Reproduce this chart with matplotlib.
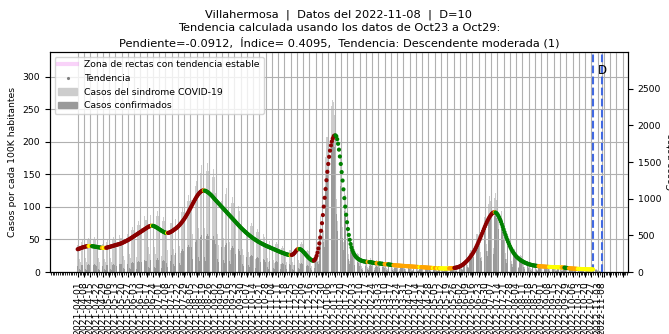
import numpy as np
import pandas as pd
import matplotlib
matplotlib.use('Agg')
import matplotlib.pyplot as plt
import matplotlib.dates as mdates
from matplotlib.lines import Line2D
from matplotlib.patches import Patch

inicio = '2021-04-01'
fecha_tendencia = '2022-10-29'
fecha_datos = '2022-11-08'

# tendencia diaria (casos por cada 100K habitantes), desde 2021-04-01
tendencia = [
    35.0, 35.5, 36.0, 36.6, 37.1, 37.6, 38.0,
    38.4, 38.8, 39.2, 39.5, 39.7, 39.9, 40.0,
    40.0, 39.9, 39.7, 39.5, 39.3, 39.0, 38.8,
    38.5, 38.3, 38.0, 37.8, 37.6, 37.4, 37.2,
    37.1, 37.0, 37.0, 37.1, 37.3, 37.6, 38.0,
    38.4, 38.8, 39.2, 39.6, 40.0, 40.4, 40.8,
    41.2, 41.6, 42.0, 42.4, 42.8, 43.2, 43.7,
    44.3, 44.9, 45.5, 46.2, 46.9, 47.6, 48.3,
    49.0, 49.8, 50.6, 51.5, 52.4, 53.3, 54.2,
    55.1, 56.0, 56.9, 57.8, 58.7, 59.6, 60.5,
    61.4, 62.3, 63.2, 64.1, 65.0, 65.9, 66.8,
    67.7, 68.6, 69.4, 70.1, 70.6, 71.0, 71.1,
    71.0, 70.6, 70.0, 69.3, 68.5, 67.7, 66.8,
    65.9, 65.0, 64.1, 63.2, 62.4, 61.6, 60.9,
    60.4, 60.1, 60.0, 60.1, 60.4, 60.9, 61.6,
    62.4, 63.3, 64.3, 65.3, 66.3, 67.3, 68.4,
    69.6, 71.0, 72.5, 74.1, 75.8, 77.6, 79.5,
    81.5, 83.6, 85.8, 88.1, 90.5, 93.0, 95.6,
    98.2, 100.8, 103.4, 106.0, 108.6, 111.1, 113.5,
    115.8, 117.9, 119.8, 121.5, 122.9, 124.0, 124.8,
    125.2, 125.3, 125.0, 124.5, 123.8, 122.9, 121.9,
    120.8, 119.6, 118.3, 116.9, 115.4, 113.8, 112.1,
    110.6, 109.1, 107.6, 106.1, 104.6, 103.1, 101.6,
    100.1, 98.6, 97.1, 95.6, 94.1, 92.6, 91.1,
    89.6, 88.1, 86.6, 85.1, 83.6, 82.1, 80.6,
    79.1, 77.6, 76.1, 74.6, 73.1, 71.6, 70.1,
    68.7, 67.3, 65.9, 64.6, 63.3, 62.0, 60.8,
    59.6, 58.4, 57.2, 56.1, 55.0, 53.9, 52.9,
    51.9, 50.9, 50.0, 49.1, 48.2, 47.3, 46.5,
    45.7, 44.9, 44.1, 43.4, 42.7, 42.0, 41.3,
    40.6, 40.0, 39.4, 38.8, 38.2, 37.6, 37.0,
    36.4, 35.8, 35.2, 34.6, 34.0, 33.4, 32.8,
    32.2, 31.6, 31.0, 30.4, 29.9, 29.4, 28.9,
    28.4, 27.9, 27.4, 27.0, 26.6, 26.3, 26.1,
    26.0, 26.2, 26.7, 27.6, 28.9, 30.6, 32.4,
    34.0, 35.0, 35.4, 35.3, 34.8, 33.9, 32.7,
    31.3, 29.8, 28.2, 26.6, 25.0, 23.5, 22.1,
    20.8, 19.6, 18.6, 17.8, 17.3, 17.5, 18.8,
    21.2, 24.8, 29.8, 36.2, 44.0, 53.0, 63.3,
    75.0, 87.5, 100.5, 114.0, 127.5, 141.0, 154.0,
    166.0, 177.0, 186.5, 194.5, 200.5, 205.0, 208.0,
    209.6, 210.0, 208.5, 204.0, 197.0, 188.0, 177.5,
    166.0, 153.5, 140.5, 127.0, 113.5, 100.5, 88.0,
    76.5, 66.0, 57.0, 49.5, 43.0, 37.8, 33.5,
    30.0, 27.2, 25.0, 23.2, 21.8, 20.6, 19.6,
    18.8, 18.1, 17.5, 17.0, 16.6, 16.3, 16.0,
    15.8, 15.6, 15.5, 15.4, 15.3, 15.1, 14.9,
    14.6, 14.3, 14.0, 13.8, 13.6, 13.5, 13.4,
    13.3, 13.2, 13.0, 12.8, 12.6, 12.4, 12.2,
    12.1, 12.0, 11.9, 11.8, 11.7, 11.5, 11.3,
    11.1, 10.9, 10.7, 10.5, 10.4, 10.3, 10.2,
    10.1, 10.0, 9.9, 9.8, 9.7, 9.6, 9.5,
    9.4, 9.3, 9.2, 9.1, 9.0, 8.9, 8.8,
    8.7, 8.6, 8.5, 8.4, 8.3, 8.2, 8.1,
    8.0, 7.9, 7.8, 7.7, 7.6, 7.6, 7.5,
    7.4, 7.3, 7.2, 7.1, 7.0, 6.9, 6.8,
    6.7, 6.6, 6.5, 6.4, 6.3, 6.2, 6.2,
    6.1, 6.0, 5.9, 5.8, 5.8, 5.7, 5.6,
    5.6, 5.5, 5.5, 5.4, 5.4, 5.4, 5.4,
    5.5, 5.5, 5.6, 5.7, 5.8, 5.9, 6.0,
    6.1, 6.3, 6.5, 6.8, 7.1, 7.5, 8.0,
    8.6, 9.3, 10.1, 11.0, 12.0, 13.1, 14.3,
    15.6, 17.0, 18.5, 20.1, 21.8, 23.6, 25.5,
    27.6, 29.8, 32.1, 34.6, 37.3, 40.2, 43.2,
    46.3, 49.5, 52.8, 56.1, 59.5, 62.9, 66.3,
    69.6, 72.8, 75.9, 78.8, 81.5, 84.0, 86.2,
    88.1, 89.7, 90.9, 91.6, 91.8, 91.4, 90.4,
    88.8, 86.6, 83.9, 80.8, 77.3, 73.5, 69.5,
    65.4, 61.3, 57.3, 53.4, 49.7, 46.2, 42.9,
    39.8, 36.9, 34.2, 31.8, 29.6, 27.6, 25.8,
    24.2, 22.8, 21.5, 20.3, 19.2, 18.2, 17.3,
    16.5, 15.7, 15.0, 14.3, 13.7, 13.1, 12.6,
    12.1, 11.7, 11.3, 10.9, 10.6, 10.3, 10.0,
    9.8, 9.6, 9.4, 9.2, 9.0, 8.9, 8.8,
    8.7, 8.6, 8.5, 8.4, 8.3, 8.2, 8.1,
    8.0, 7.9, 7.8, 7.8, 7.7, 7.7, 7.6,
    7.6, 7.5, 7.5, 7.4, 7.4, 7.3, 7.3,
    7.2, 7.2, 7.1, 7.0, 6.9, 6.8, 6.6,
    6.4, 6.2, 6.0, 5.8, 5.7, 5.6, 5.5,
    5.4, 5.3, 5.2, 5.1, 5.0, 4.9, 4.8,
    4.8, 4.7, 4.7, 4.6, 4.6, 4.5, 4.5,
    4.4, 4.4, 4.3, 4.3, 4.2, 4.2, 4.1,
    4.1, 4.0, 4.0,
]

# casos netos diarios, desde 2021-04-01
casos_sindrome = [
    375, 340, 180, 130, 405, 440, 405,
    400, 370, 195, 140, 440, 470, 435,
    400, 365, 190, 145, 435, 475, 440,
    385, 350, 185, 135, 420, 450, 420,
    380, 345, 180, 130, 410, 445, 410,
    405, 370, 195, 140, 440, 475, 440,
    430, 395, 205, 150, 470, 510, 470,
    470, 430, 225, 165, 515, 555, 510,
    525, 480, 250, 185, 570, 615, 570,
    590, 540, 280, 205, 640, 695, 640,
    655, 600, 315, 230, 710, 770, 710,
    715, 655, 340, 250, 780, 840, 780,
    705, 645, 340, 245, 770, 830, 770,
    645, 590, 310, 225, 700, 755, 700,
    615, 560, 295, 215, 665, 720, 665,
    665, 610, 320, 230, 725, 780, 725,
    755, 690, 360, 265, 820, 885, 820,
    900, 820, 430, 310, 975, 1055, 975,
    1080, 985, 515, 375, 1175, 1270, 1175,
    1240, 1130, 595, 430, 1350, 1455, 1350,
    1270, 1160, 605, 440, 1380, 1490, 1380,
    1195, 1090, 570, 415, 1295, 1400, 1295,
    1080, 990, 520, 375, 1175, 1270, 1175,
    975, 890, 465, 340, 1060, 1145, 1060,
    870, 795, 415, 300, 945, 1020, 945,
    760, 695, 365, 265, 830, 895, 830,
    660, 600, 315, 230, 715, 775, 715,
    575, 525, 275, 200, 625, 670, 625,
    500, 460, 240, 175, 545, 590, 545,
    445, 405, 210, 155, 480, 520, 480,
    390, 355, 185, 135, 425, 460, 425,
    345, 315, 165, 120, 380, 410, 380,
    305, 280, 145, 105, 330, 360, 330,
    270, 250, 130, 95, 295, 320, 295,
    295, 270, 140, 100, 320, 345, 320,
    355, 325, 170, 125, 385, 415, 385,
    255, 235, 120, 90, 280, 300, 280,
    175, 160, 85, 60, 190, 205, 190,
    255, 280, 175, 155, 590, 760, 830,
    890, 935, 555, 450, 1565, 1845, 1840,
    1805, 1735, 950, 710, 2270, 2350, 2320,
    2140, 1940, 995, 700, 2085, 2125, 1840,
    1565, 1310, 620, 405, 1115, 1055, 850,
    675, 530, 240, 150, 420, 400, 335,
    220, 205, 105, 75, 240, 260, 240,
    170, 155, 80, 60, 185, 200, 185,
    155, 145, 75, 55, 170, 185, 170,
    140, 125, 65, 50, 150, 165, 150,
    130, 120, 60, 45, 140, 150, 140,
    120, 110, 55, 40, 130, 140, 130,
    105, 95, 50, 35, 115, 125, 115,
    100, 90, 45, 35, 110, 115, 110,
    90, 85, 45, 30, 100, 110, 100,
    85, 80, 40, 30, 95, 100, 90,
    75, 70, 35, 25, 85, 90, 85,
    70, 65, 35, 25, 80, 85, 75,
    65, 60, 30, 20, 70, 75, 70,
    60, 55, 30, 20, 65, 70, 65,
    55, 50, 25, 20, 60, 65, 60,
    60, 55, 30, 20, 65, 70, 65,
    70, 65, 35, 25, 80, 85, 80,
    95, 95, 55, 45, 145, 165, 160,
    175, 170, 100, 75, 260, 305, 305,
    305, 300, 170, 130, 445, 515, 515,
    505, 490, 275, 210, 700, 795, 770,
    745, 705, 385, 290, 930, 1030, 975,
    915, 845, 445, 325, 1015, 1080, 985,
    885, 780, 395, 275, 815, 830, 725,
    625, 535, 260, 175, 515, 515, 440,
    375, 320, 155, 105, 305, 310, 270,
    195, 180, 95, 70, 215, 230, 215,
    140, 130, 65, 50, 150, 165, 150,
    110, 100, 50, 40, 115, 125, 115,
    90, 85, 45, 30, 100, 110, 100,
    85, 80, 40, 30, 95, 100, 90,
    80, 70, 35, 25, 85, 90, 85,
    75, 70, 35, 25, 80, 90, 80,
    70, 65, 35, 25, 75, 80, 75,
    60, 55, 30, 20, 65, 70, 65,
    50, 45, 25, 20, 55, 60, 55,
    45, 45, 25, 15, 50, 55, 50,
    45, 40, 20, 15, 45, 50, 45,
    40, 35, 20, 15, 45, 45, 45,
    30, 25, 15, 10, 15, 10,
]

casos_confirmados = [
    85, 75, 40, 30, 90, 95, 90,
    90, 80, 45, 30, 95, 105, 95,
    90, 80, 40, 30, 95, 105, 95,
    85, 75, 40, 30, 90, 100, 90,
    85, 75, 40, 30, 90, 100, 90,
    90, 80, 45, 30, 95, 105, 95,
    95, 85, 45, 35, 105, 110, 105,
    105, 95, 50, 35, 115, 120, 110,
    115, 105, 55, 40, 125, 135, 125,
    130, 120, 60, 45, 140, 155, 140,
    145, 130, 70, 50, 155, 170, 155,
    155, 145, 75, 55, 170, 185, 170,
    155, 140, 75, 55, 170, 185, 170,
    140, 130, 70, 50, 155, 165, 155,
    135, 125, 65, 45, 145, 160, 145,
    235, 215, 110, 80, 255, 275, 255,
    265, 240, 125, 95, 285, 310, 285,
    315, 285, 150, 110, 340, 370, 340,
    380, 345, 180, 130, 410, 445, 410,
    435, 395, 210, 150, 475, 510, 475,
    445, 405, 210, 155, 485, 520, 485,
    420, 380, 200, 145, 455, 490, 455,
    380, 345, 180, 130, 410, 445, 410,
    340, 310, 165, 120, 370, 400, 370,
    305, 280, 145, 105, 330, 355, 330,
    265, 245, 130, 95, 290, 315, 290,
    230, 210, 110, 80, 250, 270, 250,
    200, 185, 95, 70, 220, 235, 220,
    175, 160, 85, 60, 190, 205, 190,
    155, 140, 75, 55, 170, 180, 170,
    135, 125, 65, 45, 150, 160, 150,
    120, 110, 60, 40, 135, 145, 135,
    105, 100, 50, 35, 115, 125, 115,
    95, 90, 45, 35, 105, 110, 105,
    90, 80, 40, 30, 95, 105, 95,
    105, 100, 50, 40, 115, 125, 115,
    75, 70, 35, 25, 85, 90, 85,
    55, 50, 25, 20, 55, 60, 55,
    190, 210, 130, 115, 445, 570, 625,
    670, 700, 415, 340, 1175, 1385, 1380,
    1445, 1390, 760, 570, 1815, 1880, 1855,
    1710, 1550, 795, 560, 1670, 1700, 1470,
    1175, 985, 465, 305, 835, 790, 640,
    505, 400, 180, 115, 315, 300, 250,
    110, 100, 55, 40, 120, 130, 120,
    85, 80, 40, 30, 90, 100, 90,
    80, 70, 40, 30, 85, 90, 85,
    70, 65, 35, 25, 75, 80, 75,
    65, 60, 30, 20, 70, 75, 70,
    60, 55, 30, 20, 65, 70, 65,
    50, 50, 25, 20, 55, 60, 55,
    50, 45, 25, 15, 55, 60, 55,
    45, 40, 20, 15, 50, 55, 50,
    40, 40, 20, 15, 45, 50, 45,
    40, 35, 20, 10, 40, 45, 40,
    35, 35, 15, 10, 40, 40, 40,
    30, 30, 15, 10, 35, 40, 35,
    30, 25, 15, 10, 30, 35, 30,
    25, 25, 15, 10, 30, 30, 30,
    30, 25, 15, 10, 30, 35, 30,
    35, 30, 20, 10, 40, 45, 40,
    65, 65, 40, 30, 100, 115, 110,
    120, 120, 70, 55, 180, 215, 215,
    215, 210, 120, 90, 310, 360, 360,
    355, 345, 195, 145, 490, 555, 540,
    560, 530, 290, 220, 700, 775, 730,
    685, 635, 335, 245, 760, 810, 740,
    665, 585, 295, 205, 610, 625, 545,
    440, 375, 180, 125, 360, 360, 310,
    265, 225, 110, 75, 215, 215, 190,
    135, 125, 65, 50, 150, 160, 150,
    75, 70, 35, 30, 85, 90, 85,
    60, 55, 30, 20, 65, 70, 65,
    50, 45, 25, 15, 55, 60, 55,
    45, 45, 20, 15, 50, 55, 50,
    45, 40, 20, 15, 45, 50, 45,
    40, 40, 20, 15, 45, 50, 45,
    40, 35, 20, 15, 40, 45, 40,
    35, 30, 15, 10, 35, 40, 35,
    30, 25, 15, 10, 30, 35, 30,
    25, 25, 15, 10, 30, 30, 30,
    25, 20, 10, 10, 25, 30, 25,
    20, 20, 10, 10, 25, 25, 25,
    15, 15, 10, 5, 10, 5,
]

fechas_t = pd.date_range(inicio, periods=len(tendencia), freq='D')
fechas_c = pd.date_range(inicio, periods=len(casos_sindrome), freq='D')

# color de cada punto segun la pendiente de la tendencia
pend = np.gradient(np.array(tendencia))
colores = []
for p in pend:
    if p >= 0.15:
        colores.append('darkred')
    elif p <= -0.15:
        colores.append('green')
    elif abs(p) < 0.07:
        colores.append('yellow')
    else:
        colores.append('orange')

plt.rcParams['font.size'] = 6.7

fig, ax = plt.subplots(figsize=(6.69, 3.34), dpi=100)
fig.subplots_adjust(left=0.0747, right=0.9387, bottom=0.1856, top=0.8443)

ax2 = ax.twinx()
ax2.bar(fechas_c, casos_sindrome, width=0.75, color='#cdcdcd')
ax2.bar(fechas_c, casos_confirmados, width=0.75, color='#9a9a9a')
ax2.set_ylim(0, 3000)
ax2.set_yticks([0, 500, 1000, 1500, 2000, 2500])
ax2.set_ylabel('Casos netos')

ax.set_zorder(ax2.get_zorder() + 1)
ax.patch.set_visible(False)
ax.set_axisbelow(True)
ax.grid(True, color='#b0b0b0', lw=0.8)

ax.scatter(fechas_t, tendencia, c=colores, s=9, lw=0, zorder=3)
ax.set_ylim(0, 338)
ax.set_yticks([0, 50, 100, 150, 200, 250, 300])
ax.set_ylabel('Casos por cada 100K habitantes')

# marcas semanales; las posteriores a la fecha de datos van sin etiqueta
semanas = pd.date_range(inicio, '2022-12-05', freq='7D')
ticks = [t for t in semanas if t <= pd.Timestamp(fecha_datos)] + [pd.Timestamp(fecha_datos)]
extra = [t for t in semanas if t > pd.Timestamp(fecha_datos)]
ax.set_xticks(ticks + extra)
ax.set_xticklabels([t.strftime('%Y-%m-%d') for t in ticks] + [''] * len(extra), rotation=90)
ax.xaxis.set_minor_locator(mdates.DayLocator(interval=2))
ax.tick_params(axis='x', which='minor', length=2)
ax.set_xlim(pd.Timestamp('2021-03-01'), pd.Timestamp('2022-12-07'))

ax.axvline(pd.Timestamp(fecha_tendencia), color='royalblue', ls='--', lw=1.5)
ax.axvline(pd.Timestamp(fecha_datos), color='royalblue', ls='--', lw=1.5)
ax.text(pd.Timestamp(fecha_datos), 310, 'D', ha='center', va='center', fontsize=8.5)

ax.set_title('Villahermosa  |  Datos del 2022-11-08  |  D=10\n'
             'Tendencia calculada usando los datos de Oct23 a Oct29:\n'
             'Pendiente=-0.0912,  Índice= 0.4095,  Tendencia: Descendente moderada (1)',
             fontsize=8.2, linespacing=1.4, pad=4)

handles = [
    Line2D([], [], color='violet', alpha=0.35, lw=3),
    Line2D([], [], marker='.', ls='', color='grey', markersize=2.5),
    Patch(color='#cdcdcd'),
    Patch(color='#9a9a9a'),
]
etiquetas = ['Zona de rectas con tendencia estable', 'Tendencia',
             'Casos del sindrome COVID-19', 'Casos confirmados']
ax.legend(handles, etiquetas, loc='upper left', fontsize=6.7)

fig.savefig('out.png', dpi=100)
